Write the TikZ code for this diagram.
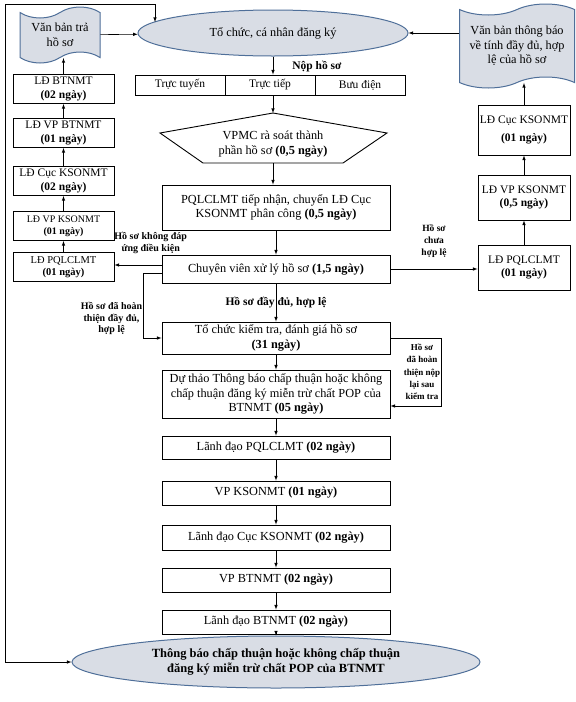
\documentclass[tikz,border=0pt]{standalone}
\usepackage{fontspec}
\setmainfont{Liberation Serif}
\usetikzlibrary{shapes.geometric,shapes.symbols}
\definecolor{ovalfill}{HTML}{D9DDE5}
\definecolor{ovalline}{HTML}{4F6F99}

\begin{document}
\begin{tikzpicture}[x=1pt,y=-1pt,>=latex,line width=0.6pt,
        box/.style={draw,line width=0.9pt,align=center,inner sep=1pt,minimum width=228,font=\fontsize{12.3}{14.5}\selectfont},
        side/.style={box,minimum width=101,minimum height=29,font=\fontsize{11.5}{13.5}\selectfont},
        cell/.style={box,minimum width=90,minimum height=20,inner sep=0pt,font=\fontsize{11.5}{13}\selectfont},
        oval/.style={ellipse,draw=ovalline,fill=ovalfill,line width=1pt,inner sep=0pt,align=center},
        paper/.style={tape,draw=ovalline,fill=ovalfill,line width=1pt,align=center,inner sep=1pt,tape bend top=in and out,tape bend bottom=in and out,tape bend height=11pt,font=\fontsize{12.3}{14.5}\selectfont},
        note/.style={font=\bfseries\fontsize{10}{11.5}\selectfont,align=center,inner sep=1pt}]
        \useasboundingbox (0,0) rectangle (576,702);

        \node[oval,minimum width=270,minimum height=46,font=\fontsize{12.3}{14}\selectfont] (m1) at (273,33) {Tổ chức, cá nhân đăng ký};
        \node[paper,minimum width=80,minimum height=56] (d1) at (60,35) {Văn bản trả\\hồ sơ};
        \node[paper,minimum width=115,minimum height=84] (d2) at (517,46) {Văn bản thông báo\\về tính đầy đủ, hợp\\lệ của hồ sơ};
        \draw (d1) edge[->] (m1);
        \draw (d2.west |- m1) edge[->] (m1.east);

        \node[note,font=\bfseries\fontsize{11.5}{13}\selectfont] (nop) at (317,67) {Nộp hồ sơ};
        \node[cell] (c1) at (180,85) {Trực tuyến};
        \node[cell] (c2) at (270,85) {Trực tiếp};
        \node[cell] (c3) at (360,85) {Bưu điện};
        \draw (m1.south) edge[->] (m1.south |- c2.north);

        \node[align=center,font=\fontsize{12.3}{15}\selectfont] (m2) at (273,144) {VPMC rà soát thành\\phần hồ sơ \textbf{(0,5 ngày)}};
        \draw[line width=0.9pt] (273,113) coordinate (p1) -- (387,133) -- (343,163) -- (203,163) -- (160,133) -- cycle;
        \coordinate (p2) at (273,163);
        \draw (c2.south -| p1) edge[->] (p1);

        \node[box,minimum height=45] (m3) at (276,207.5) {PQLCLMT tiếp nhận, chuyển LĐ Cục\\KSONMT phân công \textbf{(0,5 ngày)}};
        \node[box,minimum height=28] (m4) at (276,269) {Chuyên viên xử lý hồ sơ \textbf{(1,5 ngày)}};
        \node[box,minimum height=32] (m5) at (276,338) {Tổ chức kiểm tra, đánh giá hồ sơ\\\textbf{(31 ngày)}};
        \node[box,minimum height=48] (m6) at (276,394) {Dự thảo Thông báo chấp thuận hoặc không\\chấp thuận đăng ký miễn trừ chất POP của\\BTNMT \textbf{(05 ngày)}};
        \node[box,minimum height=23] (m7) at (276,447.5) {Lãnh đạo PQLCLMT \textbf{(02 ngày)}};
        \node[box,minimum height=24] (m8) at (276,493) {VP KSONMT \textbf{(01 ngày)}};
        \node[box,minimum height=25] (m9) at (276,537.5) {Lãnh đạo Cục KSONMT \textbf{(02 ngày)}};
        \node[box,minimum height=24] (m10) at (276,580) {VP BTNMT \textbf{(02 ngày)}};
        \node[box,minimum height=24] (m11) at (276,622) {Lãnh đạo BTNMT \textbf{(02 ngày)}};
        \node[oval,minimum width=408,minimum height=52,font=\bfseries\fontsize{12.5}{15}\selectfont] (m12) at (276,662) {Thông báo chấp thuận hoặc không chấp thuận\\đăng ký miễn trừ chất POP của BTNMT};

        \draw (p2) edge[->] (p2 |- m3.north);
        \draw (m3) edge[->] (m4)
              (m4) edge[->] node[note,font=\bfseries\fontsize{11.5}{13}\selectfont] {Hồ sơ đầy đủ, hợp lệ} (m5)
              (m5) edge[->] (m6)
              (m6) edge[->] (m7)
              (m7) edge[->] (m8)
              (m8) edge[->] (m9)
              (m9) edge[->] (m10)
              (m10) edge[->] (m11)
              (m11) edge[->] (m12);

        \node[side] (l1) at (63.5,89) {LĐ BTNMT\\\textbf{(02 ngày)}};
        \node[side] (l2) at (63.5,133) {LĐ VP BTNMT\\\textbf{(01 ngày)}};
        \node[side] (l3) at (63.5,181) {LĐ Cục KSONMT\\\textbf{(02 ngày)}};
        \node[side,font=\fontsize{10}{12}\selectfont] (l4) at (63.5,226) {LĐ VP KSONMT\\\textbf{(01 ngày)}};
        \node[side,font=\fontsize{10.5}{12.5}\selectfont] (l5) at (63.5,267) {LĐ PQLCLMT\\\textbf{(01 ngày)}};
        \draw (l5) edge[->] (l4) (l4) edge[->] (l3) (l3) edge[->] (l2) (l2) edge[->] (l1)
              (l1.north) edge[->] (l1.north |- d1.south);

        \node[side,minimum width=92,minimum height=50,font=\fontsize{11.5}{18}\selectfont] (r1) at (524,130) {LĐ Cục KSONMT\\\textbf{(01 ngày)}};
        \node[side,minimum width=92,minimum height=45] (r2) at (524,197.5) {LĐ VP KSONMT\\\textbf{(0,5 ngày)}};
        \node[side,minimum width=92,minimum height=45] (r3) at (524,267.5) {LĐ PQLCLMT\\\textbf{(01 ngày)}};
        \draw (r3) edge[->] (r2) (r2) edge[->] (r1)
              (r1.north) edge[->] (r1.north |- d2.south);

        \draw ([yshift=4pt]m4.west) edge[->] node[note,pos=0.23,above=10pt] {Hồ sơ không đáp\\ứng điều kiện} ([yshift=4pt]m4.west -| l5.east);
        \draw (m4.east) edge[->] node[note,font=\bfseries\fontsize{9.5}{12}\selectfont,above=10pt] {Hồ sơ\\chưa\\hợp lệ} (m4.east -| r3.west);
        \draw[->] ([yshift=-4pt]m4.west) -- ++(-18,0) |- node[note,pos=0.35,left] {Hồ sơ đã hoàn\\thiện đầy đủ,\\hợp lệ} (m5.west);
        \draw[->] (m5.east) -- ++(51,0) |- node[note,font=\bfseries\fontsize{9}{12.3}\selectfont,pos=0.25,left] {Hồ sơ\\đã hoàn\\thiện nộp\\lại sau\\kiểm tra} ([yshift=-12pt]m6.east);

        \coordinate (t0) at (155,22);
        \draw[<->] (t0) |- (5,4) |- (m12.west);
    \end{tikzpicture}
\end{document}
